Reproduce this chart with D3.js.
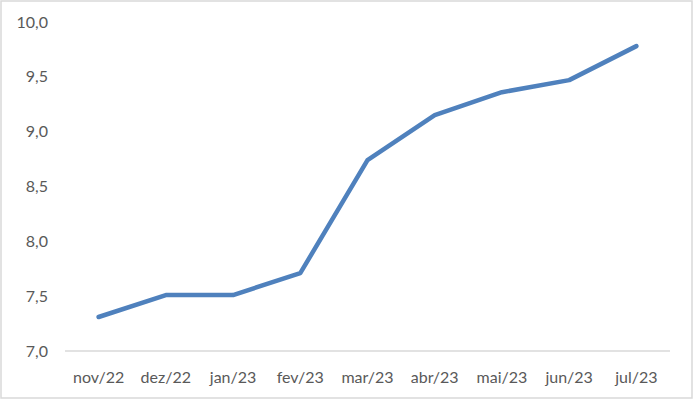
<!DOCTYPE html>
<html><head><meta charset="utf-8">
<script src="https://cdn.jsdelivr.net/npm/d3@7"></script>
<style>body{margin:0;background:#fff}svg{display:block}</style>
</head><body><svg id="c" width="694" height="401"></svg>
<script>
const categories = ["nov/22","dez/22","jan/23","fev/23","mar/23","abr/23","mai/23","jun/23","jul/23"];
const values = [7.31, 7.51, 7.51, 7.71, 8.74, 9.15, 9.36, 9.47, 9.78];
const yTicks = [7.0, 7.5, 8.0, 8.5, 9.0, 9.5, 10.0];

const svg = d3.select("#c");
svg.append("rect").attr("x",1).attr("y",1).attr("width",691).attr("height",397)
  .attr("fill","#fff").attr("stroke","#d9d9d9").attr("stroke-width",1.5);

const x = d3.scalePoint().domain(categories).range([65,670]).padding(0.5);
const y = d3.scaleLinear().domain([7,10]).range([351,22]);
const fmt = d => d3.format(".1f")(d).replace(".", ",");
const font = "Lato, Calibri, sans-serif";

svg.append("line").attr("x1",65).attr("x2",670).attr("y1",y(7)).attr("y2",y(7))
  .attr("stroke","#d9d9d9").attr("stroke-width",1.3);

svg.append("g").selectAll("text").data(yTicks).join("text")
  .attr("x",48).attr("y",d=>y(d)).attr("dy","0.35em").attr("text-anchor","end")
  .attr("font-family",font).attr("font-size",16).attr("fill","#595959").text(fmt);

svg.append("g").selectAll("text").data(categories).join("text")
  .attr("x",d=>x(d)).attr("y",377).attr("dy","0.35em").attr("text-anchor","middle")
  .attr("font-family",font).attr("font-size",16).attr("fill","#595959").text(d=>d);

const line = d3.line().x((d,i)=>x(categories[i])).y(d=>y(d));
svg.append("path").datum(values).attr("d",line).attr("fill","none")
  .attr("stroke","#4f81bd").attr("stroke-width",4.5).attr("stroke-linejoin","round").attr("stroke-linecap","round");
</script></body></html>
